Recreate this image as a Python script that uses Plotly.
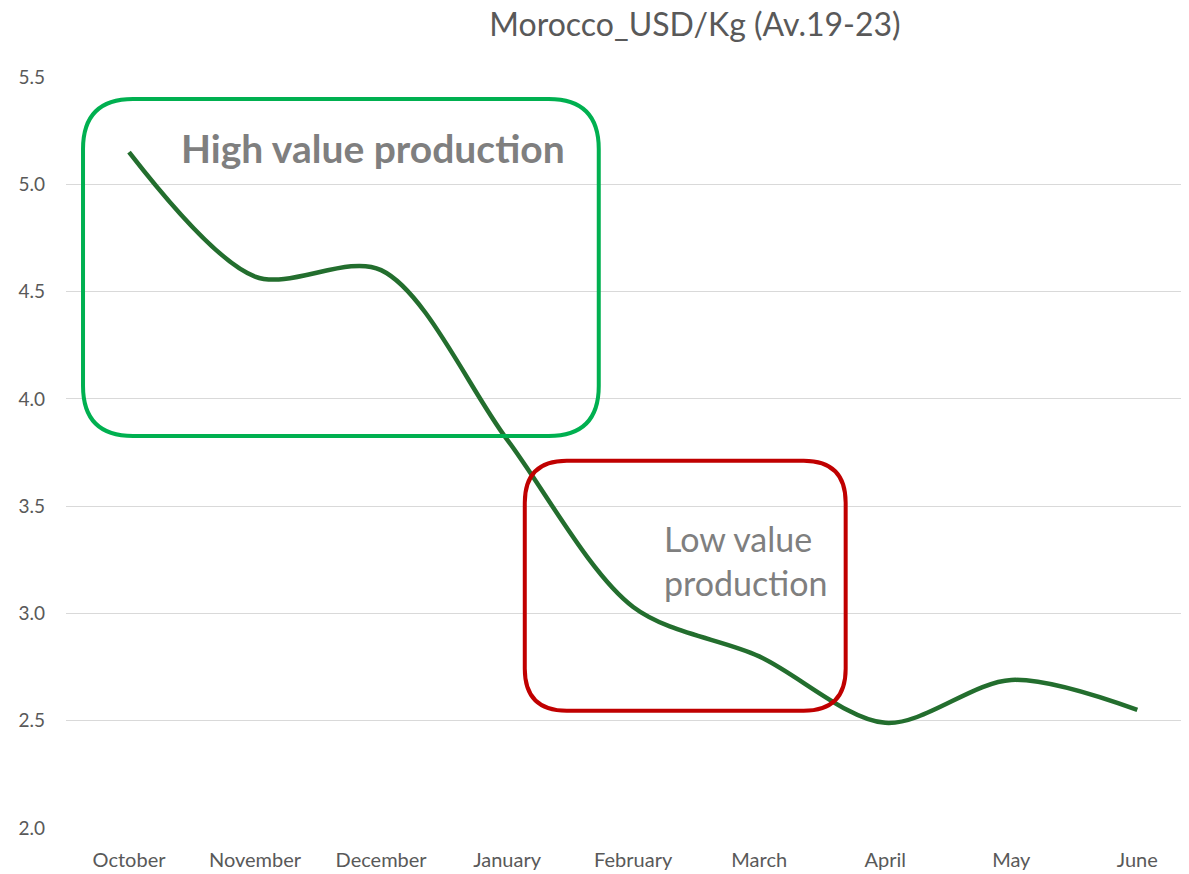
import plotly.graph_objects as go

months = ["October", "November", "December", "January", "February",
          "March", "April", "May", "June"]
usd_per_kg = [5.15, 4.57, 4.60, 3.81, 3.03, 2.80, 2.49, 2.69, 2.55]

title_text = "Morocco_USD/Kg (Av.19-23)"
high_label = "High value production"
low_label_lines = ["Low value", "production"]

# page body has an 8px margin; the figure is sized and placed to compensate
W, H = 1181, 866
ML, MR, MT, MB = 58, 0, 69, 46
X_RANGE = [-0.5, 8.41]
Y_RANGE = [2.0, 5.5]

px_per_x = (W - ML - MR) / (X_RANGE[1] - X_RANGE[0])
px_per_y = (H - MT - MB) / (Y_RANGE[1] - Y_RANGE[0])


def rounded_rect(x0, y0, x1, y1, r_px):
    """x in category units, y in data units; corner radius in pixels."""
    rx = r_px / px_per_x
    ry = r_px / px_per_y
    return (f"M {x0+rx},{y1} L {x1-rx},{y1} Q {x1},{y1} {x1},{y1-ry} "
            f"L {x1},{y0+ry} Q {x1},{y0} {x1-rx},{y0} "
            f"L {x0+rx},{y0} Q {x0},{y0} {x0},{y0+ry} "
            f"L {x0},{y1-ry} Q {x0},{y1} {x0+rx},{y1} Z")


fig = go.Figure()
fig.add_trace(go.Scatter(
    x=list(range(len(months))), y=usd_per_kg, mode="lines",
    line=dict(color="#236E2E", width=4.5, shape="spline", smoothing=0.9),
    hoverinfo="skip", showlegend=False,
))

fig.add_shape(type="path", xref="x", yref="y",
              path=rounded_rect(-0.365, 3.827, 3.727, 5.398, 50),
              line=dict(color="#00B050", width=4))
fig.add_shape(type="path", xref="x", yref="y",
              path=rounded_rect(3.14, 2.546, 5.686, 3.711, 42),
              line=dict(color="#C00000", width=4))

fig.add_annotation(x=1.935, y=5.17, xref="x", yref="y", text=f"<b>{high_label}</b>",
                   showarrow=False, font=dict(family="Lato", size=39, color="#7F7F7F"))
fig.add_annotation(x=4.227, y=3.245, xref="x", yref="y", xanchor="left",
                   text="<br>".join(low_label_lines), showarrow=False, align="left",
                   font=dict(family="Lato", size=34, color="#7F7F7F"))

fig.update_layout(
    width=W, height=H,
    margin=dict(l=ML, r=MR, t=MT, b=MB, autoexpand=False),
    paper_bgcolor="white", plot_bgcolor="white",
    title=dict(text=title_text, x=687 / W, xanchor="center", xref="container",
               y=1 - 17 / H, yanchor="middle", yref="container",
               font=dict(family="Lato", size=32, color="#595959")),
    font=dict(family="Lato", color="#595959"),
)
fig.update_xaxes(
    range=X_RANGE, tickmode="array", tickvals=list(range(len(months))), ticktext=months,
    showgrid=False, zeroline=False, showline=False, ticks="", automargin=False,
    tickfont=dict(size=20, color="#595959"), ticklabelstandoff=18,
)
fig.update_yaxes(
    range=Y_RANGE, dtick=0.5, tickformat=".1f", showgrid=True, gridcolor="#D9D9D9",
    gridwidth=1.3, zeroline=False, showline=False, ticks="", automargin=False,
    tickfont=dict(size=19, color="#595959"), ticklabelstandoff=20,
)

fig.write_html("out.html")
